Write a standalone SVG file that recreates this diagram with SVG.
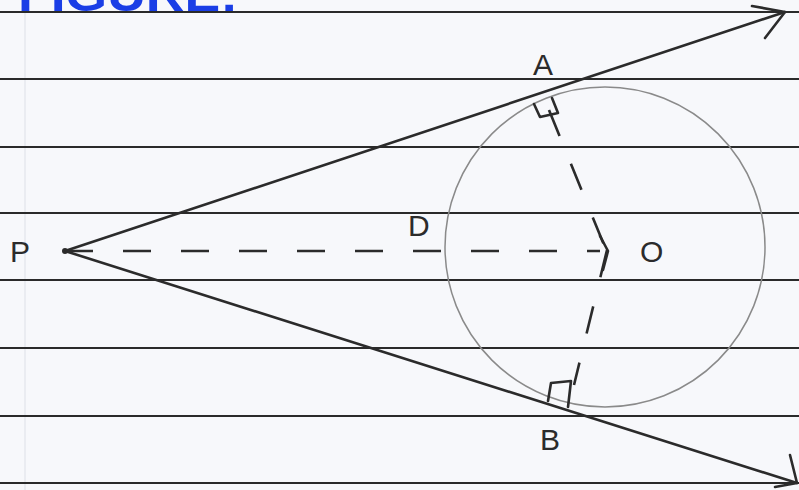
<svg xmlns="http://www.w3.org/2000/svg" width="799" height="490" viewBox="0 0 799 490">
<style>
.rule{stroke:#2a2a2a;stroke-width:2}
.ln{stroke:#2b2b2b;stroke-width:2.6;fill:none;stroke-linecap:round;stroke-linejoin:round}
.dash{stroke:#2b2b2b;stroke-width:2.6;fill:none;stroke-dasharray:28 30}
.lbl{font-family:"Liberation Sans",Arial,sans-serif;font-size:30px;fill:#2b2b2b}
</style>
<rect width="799" height="490" fill="#f7f8fb"/>
<g id="paper">
<line x1="25" y1="0" x2="25" y2="490" stroke="#e6e8ee" stroke-width="1.5"/>
<line class="rule" x1="0" y1="12" x2="799" y2="12"/>
<line class="rule" x1="0" y1="79" x2="799" y2="79"/>
<line class="rule" x1="0" y1="147" x2="799" y2="147"/>
<line class="rule" x1="0" y1="213" x2="799" y2="213"/>
<line class="rule" x1="0" y1="280" x2="799" y2="280"/>
<line class="rule" x1="0" y1="348" x2="799" y2="348"/>
<line class="rule" x1="0" y1="416" x2="799" y2="416"/>
<line class="rule" x1="0" y1="483" x2="799" y2="483"/>
</g>
<text x="18" y="11" font-family="Liberation Sans,Arial,sans-serif" font-size="46" font-weight="bold" fill="#1a3ee6" textLength="220" lengthAdjust="spacingAndGlyphs">FIGURE:</text>
<g id="circle"><circle cx="605" cy="247" r="160" fill="none" stroke="#8a8a8a" stroke-width="1.5"/></g>
<g id="connectors">
<line class="ln" x1="65" y1="251" x2="785" y2="12"/>
<polyline class="ln" points="752,6 785,12 765,38"/>
<line class="ln" x1="65" y1="251" x2="797" y2="483"/>
<polyline class="ln" points="790,455 797,483 775,487"/>
<line class="dash" x1="65" y1="251" x2="600" y2="251" stroke-dasharray="42 28 30 45 30 45 30 45 30 45 30 45 30"/>
<line class="dash" x1="549" y1="110" x2="604" y2="245" stroke-dasharray="18 22"/>
<line class="dash" x1="607" y1="250" x2="574" y2="385" stroke-dasharray="26 22"/>
<polyline class="ln" points="600,236 608,251 603,270"/>
<polyline class="ln" points="534,104 540,117 558,113 552,98"/>
<polyline class="ln" points="548,401 551,383 571,381 568,407"/>
<circle cx="65" cy="251" r="3" fill="#2b2b2b"/>
</g>
<g id="P"><text class="lbl" x="10" y="262">P</text></g>
<g id="A"><text class="lbl" x="533" y="75">A</text></g>
<g id="D"><text class="lbl" x="408" y="236">D</text></g>
<g id="O"><text class="lbl" x="640" y="262">O</text></g>
<g id="B"><text class="lbl" x="540" y="450">B</text></g>
</svg>
